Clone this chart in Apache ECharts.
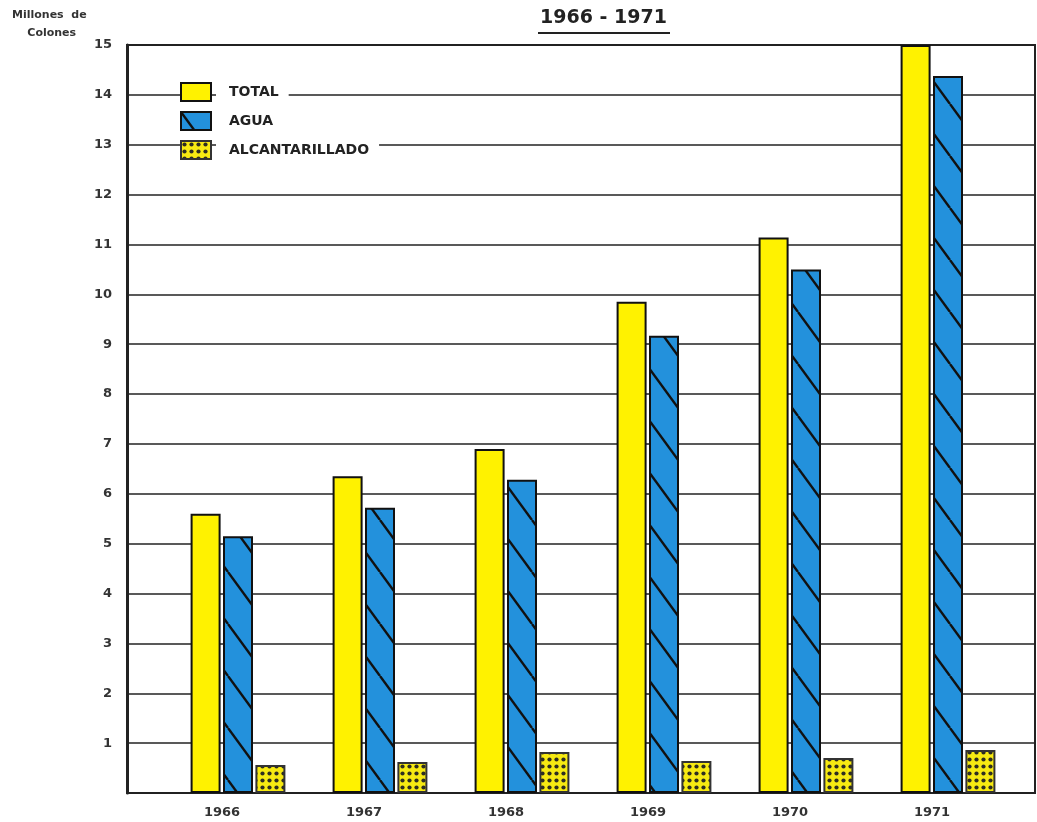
<!DOCTYPE html>
<html>
<head>
<meta charset="utf-8">
<script src="https://cdn.jsdelivr.net/npm/echarts@6/dist/echarts.min.js"></script>
<style>
  html, body { margin: 0; padding: 0; background: #fff; }
  #chart { width: 1037px; height: 822px; }
</style>
</head>
<body>
<div id="chart"></div>
<script>
// datos (millones de colones)
const years = ['1966', '1967', '1968', '1969', '1970', '1971'];
const total = [5.6, 6.35, 6.9, 9.85, 11.14, 15.0];
const agua = [5.15, 5.72, 6.28, 9.17, 10.5, 14.38];
const alcantarillado = [0.56, 0.62, 0.82, 0.64, 0.7, 0.86];
const yTicks = [0, 1, 2, 3, 4, 5, 6, 7, 8, 9, 10, 11, 12, 13, 14, 15];

// patron de lineas diagonales para AGUA
function makeHatch () {
  const c = document.createElement('canvas');
  c.width = 38; c.height = 52;
  const ctx = c.getContext('2d');
  ctx.fillStyle = '#2391dc';
  ctx.fillRect(0, 0, 38, 52);
  ctx.strokeStyle = '#111';
  ctx.lineWidth = 2.4;
  for (let k = -1; k <= 1; k++) {
    ctx.beginPath();
    ctx.moveTo(k * 38, 0);
    ctx.lineTo(k * 38 + 38, 52);
    ctx.stroke();
  }
  return c;
}

// patron de puntos para ALCANTARILLADO
function makeDots () {
  const c = document.createElement('canvas');
  c.width = 7; c.height = 7;
  const ctx = c.getContext('2d');
  ctx.fillStyle = '#f7ea12';
  ctx.fillRect(0, 0, 7, 7);
  ctx.fillStyle = '#2e2e22';
  ctx.beginPath();
  ctx.arc(3.5, 3.5, 2.1, 0, Math.PI * 2);
  ctx.fill();
  return c;
}

const font = 'DejaVu Sans';
let myChart = echarts.init(document.getElementById('chart'), null, { renderer: 'canvas' });

myChart.setOption({
  animation: false,
  backgroundColor: '#fff',
  title: [{
    text: '1966 - 1971',
    left: 540,
    top: 9,
    padding: 0,
    textStyle: { fontFamily: font, fontWeight: 'bold', fontSize: 19, color: '#222' }
  }, {
    text: 'Millones  de\n    Colones',
    left: 12,
    top: 6,
    padding: 0,
    textStyle: { fontFamily: font, fontWeight: 'bold', fontSize: 11, color: '#333', lineHeight: 18 }
  }],
  graphic: [{
    type: 'line',
    shape: { x1: 538, y1: 33, x2: 670, y2: 33 },
    style: { stroke: '#222', lineWidth: 2 }
  }],
  legend: {
    orient: 'vertical',
    left: 180,
    top: 82,
    padding: 0,
    icon: 'rect',
    itemWidth: 30,
    itemHeight: 18,
    itemGap: 9,
    data: ['TOTAL', 'AGUA', 'ALCANTARILLADO'],
    textStyle: {
      fontFamily: font, fontWeight: 'bold', fontSize: 14, color: '#222',
      lineHeight: 16,
      backgroundColor: '#fff', padding: [1, 10, 1, 13]
    }
  },
  grid: [
    { left: 127, right: 2, top: 45, bottom: 29, show: true, borderColor: '#222', borderWidth: 2 },
    { left: 167, right: 18, top: 45, bottom: 29 }
  ],
  xAxis: [{
    gridIndex: 0,
    type: 'category',
    data: years,
    show: false
  }, {
    gridIndex: 1,
    type: 'category',
    data: years,
    axisLine: { show: false },
    axisTick: { show: false },
    axisLabel: {
      margin: 13,
      padding: [0, 32, 0, 0],
      fontFamily: font, fontWeight: 'bold', fontSize: 13, color: '#333'
    }
  }],
  yAxis: [{
    gridIndex: 0,
    type: 'value',
    min: yTicks[0],
    max: yTicks[yTicks.length - 1],
    interval: 1,
    axisLine: { show: true, lineStyle: { color: '#222', width: 3 } },
    axisTick: { show: false },
    splitLine: { lineStyle: { color: '#222', width: 1.5 } },
    axisLabel: {
      margin: 15,
      showMinLabel: false,
      fontFamily: font, fontWeight: 'bold', fontSize: 13, color: '#333'
    }
  }, {
    gridIndex: 1,
    type: 'value',
    min: 0,
    max: 15,
    show: false,
    splitLine: { show: false }
  }],
  series: [{
    name: 'TOTAL',
    type: 'bar',
    xAxisIndex: 1,
    yAxisIndex: 1,
    data: total,
    barWidth: 30,
    barGap: '8%',
    itemStyle: { color: '#fff200', borderColor: '#111', borderWidth: 2 }
  }, {
    name: 'AGUA',
    type: 'bar',
    xAxisIndex: 1,
    yAxisIndex: 1,
    data: agua,
    barWidth: 30,
    barGap: '8%',
    itemStyle: { color: { image: makeHatch(), repeat: 'repeat' }, borderColor: '#111', borderWidth: 2 }
  }, {
    name: 'ALCANTARILLADO',
    type: 'bar',
    xAxisIndex: 1,
    yAxisIndex: 1,
    data: alcantarillado,
    barWidth: 30,
    barGap: '8%',
    itemStyle: { color: { image: makeDots(), repeat: 'repeat' }, borderColor: '#333', borderWidth: 2 }
  }]
});
</script>
</body>
</html>
